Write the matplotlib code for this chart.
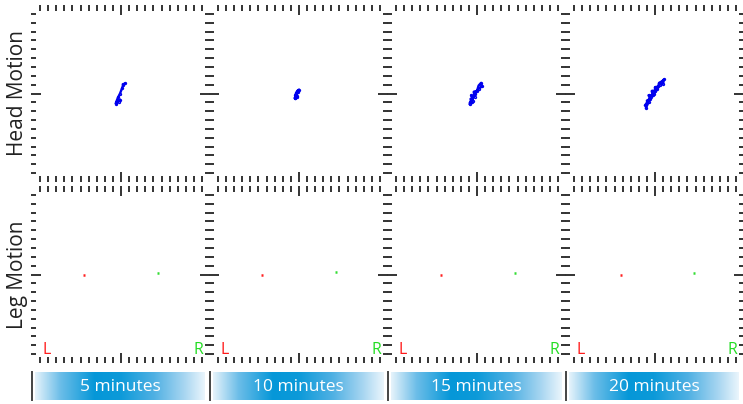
import numpy as np
import matplotlib
matplotlib.use("Agg")
import matplotlib.pyplot as plt
from matplotlib.colors import LinearSegmentedColormap

plt.rcParams['font.family'] = ['Open Sans', 'DejaVu Sans']

# ---- data (normalised position, -1..1 per panel) ----
time_labels = ["5 minutes", "10 minutes", "15 minutes", "20 minutes"]
row_labels = ["Head Motion", "Leg Motion"]

head_x = [
    [-0.062, -0.025, -0.012, -0.037, -0.062, -0.037, -0.012, 0.012, 0.025, 0.050, 0.025],
    [-0.050, -0.030, -0.040, -0.020, 0.000, -0.010, -0.045, -0.050, -0.020],
    [-0.09, -0.06, -0.08, -0.05, -0.07, -0.03, -0.04, 0.00, 0.02, 0.05, 0.06, 0.02, -0.02, -0.06, -0.085],
    [-0.11, -0.08, -0.10, -0.06, -0.08, -0.03, -0.04, 0.00, 0.00, 0.04, 0.05, 0.09, 0.11, 0.10, 0.06,
     0.03, -0.01, -0.05, -0.09, -0.12],
]
head_y = [
    [-0.113, -0.091, -0.068, -0.079, -0.102, -0.045, 0.000, 0.057, 0.091, 0.113, 0.102],
    [-0.050, -0.030, 0.000, 0.030, 0.045, 0.020, -0.020, -0.055, -0.040],
    [-0.12, -0.10, -0.06, -0.08, -0.02, -0.04, 0.02, 0.03, 0.09, 0.12, 0.08, 0.05, 0.00, -0.05, -0.10],
    [-0.16, -0.10, -0.08, -0.06, -0.02, -0.02, 0.03, 0.03, 0.07, 0.08, 0.12, 0.14, 0.16, 0.11, 0.10,
     0.05, 0.00, -0.04, -0.09, -0.13],
]

# left leg (red) and right leg (green) positions per panel
left_leg_x = [-0.46, -0.457, -0.44, -0.42]
left_leg_y = [0.00, 0.00, 0.00, 0.00]
right_leg_x = [0.46, 0.46, 0.47, 0.485]
right_leg_y = [0.02, 0.03, 0.02, 0.02]

W, H = 743, 404


def px_rect(x0, y0, w, h):
    # pixel box (top-left origin) -> figure fraction
    return [x0 / W, 1 - (y0 + h) / H, w / W, h / H]


def style_ruler(ax):
    for s in ax.spines.values():
        s.set_visible(False)
    ax.spines['left'].set_position(('outward', 3))
    ax.spines['right'].set_position(('outward', 2))
    ax.set_xlim(-1, 1)
    ax.set_ylim(-1, 1)
    xt = np.round(np.linspace(-1, 1, 21), 2)
    yt = np.round(np.linspace(-0.9, 0.9, 19), 2)
    ax.set_xticks([0])
    ax.set_xticks(xt[xt != 0], minor=True)
    ax.set_yticks([0])
    ax.set_yticks(yt[yt != 0], minor=True)
    ax.tick_params(axis='x', which='both', top=True, bottom=True, direction='in',
                   labelbottom=False, colors='#333333', width=1.4)
    ax.tick_params(axis='x', which='minor', length=4.3)
    ax.tick_params(axis='x', which='major', length=7.5)
    ax.tick_params(axis='y', which='both', left=True, right=True, labelleft=False,
                   colors='#333333', width=1.4)
    ax.tick_params(axis='y', which='minor', direction='out', length=3.6)
    ax.tick_params(axis='y', which='major', direction='inout', length=7.5)
    ax.set_facecolor('none')


fig = plt.figure(figsize=(W / 100, H / 100), dpi=100)

col_x0 = [40, 218, 396, 574]
panel_w = 162
row_y0 = [5, 186]
panel_h = 177

bar_cmap = LinearSegmentedColormap.from_list("bar", [
    (0.0, '#e6f3fb'), (0.15, '#6bbde8'), (0.35, '#0597d8'), (0.5, '#0c9ad9'),
    (0.7, '#4fb0e3'), (0.88, '#a8d6f1'), (1.0, '#eaf5fc')])
grad = np.linspace(0, 1, 256).reshape(1, -1)

for i in range(4):
    # head motion
    ax = fig.add_axes(px_rect(col_x0[i], row_y0[0], panel_w, panel_h))
    style_ruler(ax)
    ax.plot(head_x[i], head_y[i], color='#0000ee', lw=1.7,
            marker='o', ms=1.6, mfc='none', mew=0.8)

    # leg motion
    ax2 = fig.add_axes(px_rect(col_x0[i], row_y0[1], panel_w, panel_h))
    style_ruler(ax2)
    ax2.plot([left_leg_x[i] - 0.014, left_leg_x[i] + 0.014], [left_leg_y[i]] * 2,
             color='#ff2020', lw=1.8, solid_capstyle='butt')
    ax2.plot([right_leg_x[i] - 0.014, right_leg_x[i] + 0.014], [right_leg_y[i]] * 2,
             color='#33dd33', lw=1.8, solid_capstyle='butt')
    ax2.text(-0.92, -0.85, "L", color='#ff1a1a', fontsize=11.5, ha='center', va='center')
    ax2.text(0.95, -0.85, "R", color='#22dd22', fontsize=11.5, ha='center', va='center')

    # time label bar
    bx = fig.add_axes(px_rect(col_x0[i] - 5, 372, 170, 28))
    bx.imshow(grad, aspect='auto', cmap=bar_cmap, extent=[0, 1, 0, 1])
    bx.axvline(-0.018, color='#444444', lw=1.4, clip_on=False)
    bx.set_xlim(0, 1)
    bx.axis('off')
    bx.text(0.5, 0.45, time_labels[i], color='white', fontsize=12.5,
            ha='center', va='center', transform=bx.transAxes)

for r in range(2):
    yc = 1 - (row_y0[r] + panel_h / 2) / H
    fig.text(18 / W, yc, row_labels[r], rotation=90, fontsize=15,
             color='#222222', ha='center', va='center')

fig.savefig("out.png", dpi=100)
